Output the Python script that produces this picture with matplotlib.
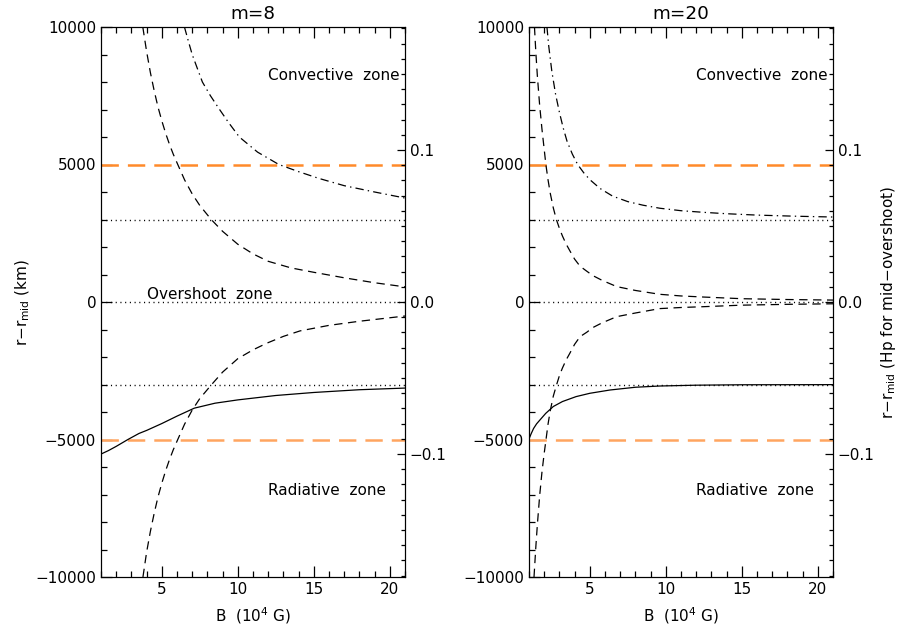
import numpy as np
import matplotlib.pyplot as plt
from matplotlib.ticker import MultipleLocator, FuncFormatter

plt.rcParams['font.family'] = 'DejaVu Sans'
plt.rcParams['font.size'] = 11
plt.rcParams['lines.scale_dashes'] = False

# --- values (B in 1e4 G, r - r_mid in km) ---
# m = 8
b8_up = [3.75, 4.0, 4.25, 4.5, 4.75, 5.0, 5.25, 5.5, 5.75, 6.05, 6.5, 7.0, 7.5, 8.25, 9.0, 10.0,
         11.0, 12.0, 13.5, 15.0, 17.0, 19.0, 21.0]
r8_up = [10000, 9110, 8340, 7680, 7090, 6590, 6140, 5740, 5380, 5000, 4440, 3930, 3510, 3000, 2570, 2100,
         1750, 1480, 1240, 1080, 880, 700, 550]
b8_lo = [3.76, 4.0, 4.25, 4.5, 4.75, 5.0, 5.25, 5.5, 5.75, 6.05, 6.5, 7.0, 7.5, 8.28, 9.0, 10.0,
         11.0, 11.9, 13.0, 14.1, 16.0, 18.0, 21.0]
r8_lo = [-10000, -9100, -8340, -7680, -7090, -6590, -6140, -5740, -5380, -5000, -4440, -3930, -3510, -3000,
         -2550, -2060, -1740, -1500, -1250, -1050, -850, -700, -510]
b8_dd = [6.49, 6.75, 7.0, 7.3, 7.67, 8.2, 8.8, 9.4, 10.1, 11.3, 12.7, 14.0, 15.3, 17.0, 19.0, 21.0]
r8_dd = [10000, 9480, 9000, 8550, 8000, 7500, 7000, 6520, 6000, 5450, 5000, 4740, 4500, 4230, 4000, 3780]
b8_sol = [1.0, 1.5, 2.0, 2.77, 3.5, 4.0, 5.0, 6.0, 7.14, 8.5, 10.0, 12.5, 15.0, 18.0, 21.0]
r8_sol = [-5530, -5400, -5250, -5000, -4780, -4670, -4420, -4150, -3860, -3680, -3560, -3400, -3290, -3190, -3130]

# m = 20
b20_up = [1.36, 1.45, 1.55, 1.7, 1.85, 2.0, 2.11, 2.25, 2.4, 2.6, 2.8, 3.0, 3.2, 3.45, 3.7, 4.0, 4.36,
          4.8, 5.2, 5.8, 6.77, 8.0, 9.6, 11.0, 12.5, 15.0, 18.0, 21.0]
r20_up = [10000, 9080, 8220, 7160, 6300, 5550, 5000, 4450, 3950, 3420, 3000, 2680, 2400, 2100, 1850, 1560, 1300,
          1120, 960, 790, 560, 420, 280, 220, 180, 120, 90, 70]
b20_lo = [1.33, 1.45, 1.55, 1.7, 1.85, 2.0, 2.12, 2.25, 2.4, 2.6, 2.82, 3.0, 3.2, 3.45, 3.7, 4.0, 4.36,
          4.8, 5.2, 5.8, 6.77, 8.0, 9.6, 11.0, 12.5, 15.0, 18.0, 21.0]
r20_lo = [-10000, -8900, -8100, -7050, -6200, -5500, -5000, -4450, -3950, -3420, -3000, -2680, -2400, -2100,
          -1850, -1540, -1260, -1100, -930, -760, -533, -400, -240, -200, -170, -115, -85, -65]
b20_dd = [2.18, 2.3, 2.5, 2.75, 3.0, 3.25, 3.5, 3.85, 4.2, 4.6, 5.0, 5.67, 6.5, 7.5, 8.5, 9.6, 11.0,
          12.5, 14.0, 16.0, 18.5, 21.0]
r20_dd = [10000, 9300, 8400, 7550, 6900, 6330, 5850, 5380, 5000, 4700, 4450, 4130, 3850, 3650, 3520, 3410, 3320,
          3260, 3210, 3160, 3120, 3090]
b20_sol = [1.0, 1.15, 1.3, 1.5, 1.72, 2.1, 2.6, 3.2, 4.1, 5.0, 6.33, 8.0, 9.6, 12.0, 15.0, 21.0]
r20_sol = [-4980, -4780, -4600, -4430, -4290, -4050, -3800, -3620, -3440, -3320, -3200, -3100, -3055, -3025,
           -3010, -3005]

titles = ['m=8', 'm=20']
orange_lines = [5000, -5000]
dotted_lines = [3000, 0, -3000]
hp_km = 55270.0  # km per Hp at mid-overshoot

panels = [
    (b8_up, r8_up, b8_lo, r8_lo, b8_dd, r8_dd, b8_sol, r8_sol),
    (b20_up, r20_up, b20_lo, r20_lo, b20_dd, r20_dd, b20_sol, r20_sol),
]

fig = plt.figure(figsize=(9.09, 6.27), dpi=100)
lefts = [101/909, 529/909]
W, H = 304/909, 550/627
bottom = 50/627

hp_fmt = FuncFormatter(lambda v, p: ('%.1f' % v).replace('-', '\u2212'))

for i, (bu, ru, bl, rl, bd, rd, bs, rs) in enumerate(panels):
    ax = fig.add_axes([lefts[i], bottom, W, H])
    ax.set_xlim(1, 21)
    ax.set_ylim(-10000, 10000)

    ax.plot([1, 21], [orange_lines[0]]*2, color='#ff8a2a', lw=1.8, dashes=(12.5, 6.5))
    ax.plot([1, 21], [orange_lines[1]]*2, color='#ffa560', lw=1.8, dashes=(12.5, 6.5))
    for yv in dotted_lines:
        ax.plot([1, 21], [yv, yv], color='k', lw=1.0, dashes=(0.8, 2.6))

    ax.plot(bu, ru, color='k', lw=0.9, dashes=(6, 4))
    ax.plot(bl, rl, color='k', lw=0.9, dashes=(6, 4))
    ax.plot(bd, rd, color='k', lw=0.9, dashes=(6, 3, 1, 3))
    ax.plot(bs, rs, color='k', lw=0.9)

    ax.text(12.0, 8220, 'Convective  zone', ha='left', va='center')
    ax.text(12.0, -6840, 'Radiative  zone', ha='left', va='center')
    if i == 0:
        ax.text(4.0, 270, 'Overshoot  zone', ha='left', va='center')
        ax.set_ylabel(r'r$-$r$_{\mathregular{mid}}$ (km)', labelpad=2)

    ax.set_title(titles[i], pad=6)
    ax.set_xlabel(r'B  (10$^{\mathregular{4}}$ G)', labelpad=6)
    ax.xaxis.set_major_locator(MultipleLocator(5))
    ax.xaxis.set_minor_locator(MultipleLocator(1))
    ax.yaxis.set_major_locator(MultipleLocator(5000))
    ax.yaxis.set_minor_locator(MultipleLocator(1000))
    ax.tick_params(which='both', direction='in', top=True, right=False)
    ax.tick_params(which='major', length=8, width=0.9)
    ax.tick_params(which='minor', length=4, width=0.9)

    ax2 = ax.twinx()
    ax2.set_ylim(-10000/hp_km, 10000/hp_km)
    ax2.yaxis.set_major_locator(MultipleLocator(0.1))
    ax2.yaxis.set_minor_locator(MultipleLocator(0.01))
    ax2.yaxis.set_major_formatter(hp_fmt)
    ax2.tick_params(which='both', direction='in')
    ax2.tick_params(which='major', length=6, width=0.9)
    ax2.tick_params(which='minor', length=3, width=0.9)
    if i == 1:
        ax2.set_ylabel(r'r$-$r$_{\mathregular{mid}}$ (Hp for mid$-$overshoot)', labelpad=3)

fig.savefig('out.png', dpi=100)
